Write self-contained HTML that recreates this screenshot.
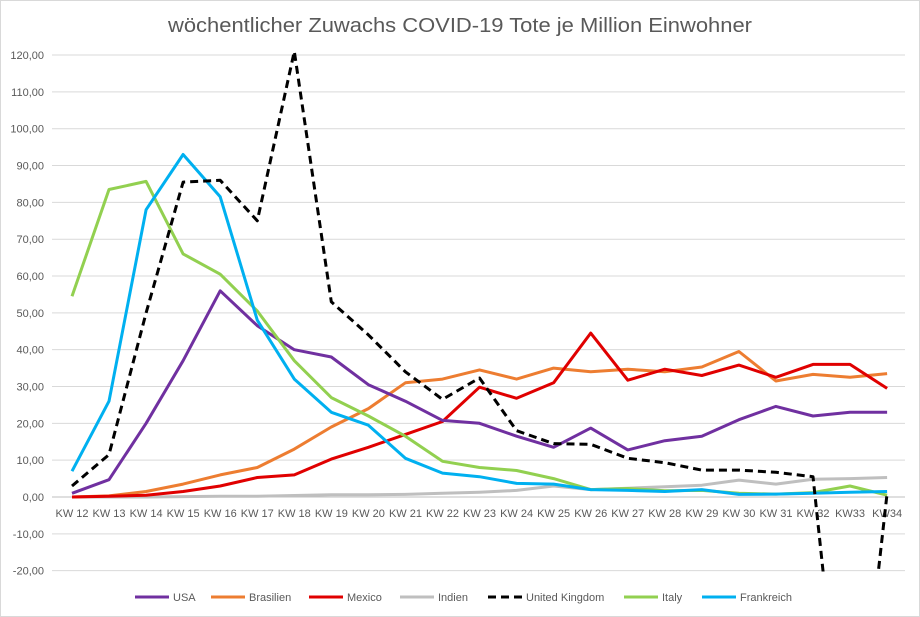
<!DOCTYPE html>
<html><head><meta charset="utf-8"><style>
html,body{margin:0;padding:0;background:#fff;width:920px;height:617px;overflow:hidden}
svg{display:block;font-family:"Liberation Sans",sans-serif}
</style></head><body>
<svg id="s" width="920" height="617" xmlns="http://www.w3.org/2000/svg">
<rect x="0.5" y="0.5" width="919" height="616" fill="#fff" stroke="#d9d9d9"/>
<text x="168" y="32" font-size="20" fill="#595959" textLength="584" lengthAdjust="spacingAndGlyphs">wöchentlicher Zuwachs COVID-19 Tote je Million Einwohner</text>
<defs><clipPath id="c"><rect x="52" y="50" width="860" height="521.5"/></clipPath></defs>
<g id="g"></g>
<g id="d" clip-path="url(#c)"></g>
<g id="l" font-size="11" fill="#595959"></g>
</svg>
<script>
var ns="http://www.w3.org/2000/svg",g=document.getElementById('g'),d=document.getElementById('d'),l=document.getElementById('l');
function el(p,t,a,tx){var e=document.createElementNS(ns,t);for(var k in a)e.setAttribute(k,a[k]);if(tx!=null)e.textContent=tx;p.appendChild(e);return e;}
function Y(v){return 497-v*3.683;}function X(i){return 72+i*37.05;}
for(var v=-20;v<=120;v+=10){var y=Y(v);el(g,'line',{x1:52,x2:905,y1:y,y2:y,stroke:v==0?'#bfbfbf':'#d9d9d9','stroke-width':1});
el(g,'text',{x:44,y:y+4,'text-anchor':'end','font-size':11,fill:'#595959'},(v<0?'-':'')+Math.abs(v)+',00');}
var labs=[];for(var i=12;i<=34;i++)labs.push(i==33?'KW33':i==34?'KW34':'KW '+i);
labs.forEach(function(t,i){el(g,'text',{x:X(i),y:517,'text-anchor':'middle','font-size':11,fill:'#595959'},t);});
var S=[
['Indien','#bfbfbf',0,[0,0,0,0.1,0.2,0.2,0.4,0.6,0.6,0.7,1,1.3,1.8,3,2,2.4,2.8,3.2,4.6,3.5,4.8,5,5.3]],
['Brasilien','#ed7d31',0,[0,0.3,1.5,3.5,6,8,13,19,24,31,32,34.5,32,35,34,34.7,34,35.3,39.5,31.5,33.3,32.5,33.5]],
['Mexico','#e00000',0,[0,0.2,0.5,1.5,3,5.3,6,10.3,13.5,17,20.5,29.8,26.8,31,44.5,31.7,34.7,33,35.8,32.5,36,36,29.5]],
['USA','#7030a0',0,[1,4.7,20,37,56,46.5,40,38,30.5,26,20.8,20,16.5,13.5,18.7,12.8,15.3,16.5,21,24.6,22,23,23]],
['Italy','#92d050',0,[54.5,83.5,85.7,66,60.5,50.5,37,27,22,16.5,9.7,8,7.2,5,2,2.3,1.7,1.8,1,0.8,1.2,3,0.5]],
['Frankreich','#00b0f0',0,[7,26,78,93,81.5,48,32,23,19.5,10.5,6.5,5.5,3.7,3.5,2,1.8,1.5,2,0.7,0.8,1,1.3,1.5]],
['United Kingdom','#000',1,[3,11.5,50,85.5,86,75,121,53,44,34,26.5,32.3,18,14.5,14.3,10.5,9.3,7.3,7.3,6.7,5.5,-89,1]]];
S.forEach(function(s){var p=s[3].map(function(v,i){return X(i).toFixed(1)+','+Y(v).toFixed(1);}).join(' ');
var a={points:p,fill:'none',stroke:s[1],'stroke-width':3,'stroke-linejoin':'round'};if(s[2])a['stroke-dasharray']='8,5';el(d,'polyline',a);});
var leg=[['USA','#7030a0',0,135],['Brasilien','#ed7d31',0,211],['Mexico','#e00000',0,309],['Indien','#bfbfbf',0,400],['United Kingdom','#000',1,488],['Italy','#92d050',0,624],['Frankreich','#00b0f0',0,702]];
leg.forEach(function(o){var a={x1:o[3],x2:o[3]+34,y1:597,y2:597,stroke:o[1],'stroke-width':3};if(o[2]==1)a['stroke-dasharray']='8,5';el(l,'line',a);
el(l,'text',{x:o[3]+38,y:601},o[0]);});
</script>
</body></html>
